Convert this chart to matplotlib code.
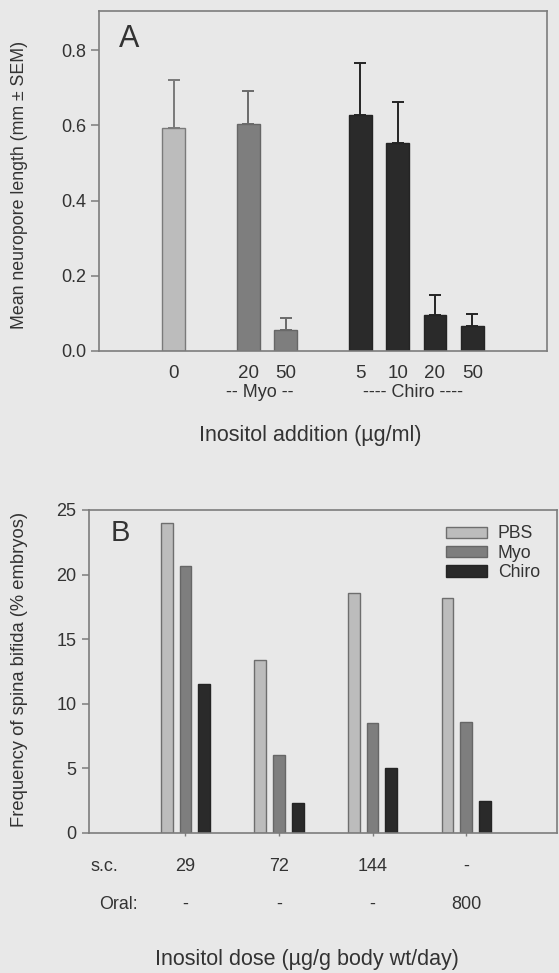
import matplotlib
matplotlib.use("Agg")
import matplotlib.pyplot as plt
from matplotlib.patches import Patch
import numpy as np

plt.rcParams["font.family"] = ["Liberation Sans", "DejaVu Sans"]

# panel A: neuropore length by inositol addition
a_groups = ["Control", "Myo", "Myo", "Chiro", "Chiro", "Chiro", "Chiro"]
a_doses = ["0", "20", "50", "5", "10", "20", "50"]
a_mean = [0.594, 0.603, 0.057, 0.628, 0.554, 0.096, 0.066]
a_sem = [0.127, 0.089, 0.031, 0.137, 0.108, 0.054, 0.033]

# panel B: spina bifida frequency
b_sc = ["29", "72", "144", "-"]
b_oral = ["-", "-", "-", "800"]
b_series = ["PBS", "Myo", "Chiro"]
b_pbs = [24.0, 13.4, 18.6, 18.2]
b_myo = [20.7, 6.0, 8.5, 8.6]
b_chiro = [11.5, 2.3, 5.0, 2.5]

BG = "#e8e8e8"
TXT = "#333333"
SPINE = "#7c7c7c"
fill = {"Control": "#bcbcbc", "PBS": "#bcbcbc", "Myo": "#7e7e7e", "Chiro": "#2a2a2a"}
edge = {"Control": "#7a7a7a", "PBS": "#6e6e6e", "Myo": "#666666", "Chiro": "#242424"}

fig = plt.figure(figsize=(5.59, 9.73), dpi=100, facecolor=BG)

def style(ax):
    ax.set_facecolor(BG)
    for s in ax.spines.values():
        s.set_color(SPINE)
        s.set_linewidth(1.2)
    ax.tick_params(colors=SPINE, labelcolor=TXT)

# ---- A ----
axA = fig.add_axes([0.1771, 0.6393, 0.8014, 0.3494])
style(axA)
pos = []
x = 0
for i, g in enumerate(a_groups):
    if i > 0:
        x += 1 if g == a_groups[i - 1] else 2
    pos.append(x)
pos = np.array(pos)
for p, g, m, e in zip(pos, a_groups, a_mean, a_sem):
    axA.bar(p, m, width=0.6, color=fill[g], edgecolor=edge[g], linewidth=1, zorder=2)
    axA.errorbar(p, m, yerr=[[0], [e]], fmt="none", ecolor=edge[g] if g != "Myo" else "#6a6a6a",
                 elinewidth=1.4, capsize=4, capthick=1.4, zorder=3)
axA.set_xlim(-2, 10)
axA.set_ylim(0, 0.904)
axA.set_yticks([0.0, 0.2, 0.4, 0.6, 0.8])
axA.set_yticklabels(["0.0", "0.2", "0.4", "0.6", "0.8"], fontsize=13)
axA.tick_params(axis="y", length=6, width=1.1, pad=3)
axA.set_xticks(pos)
axA.set_xticklabels(a_doses, fontsize=13.5)
axA.tick_params(axis="x", length=0, pad=10)
trA = axA.get_xaxis_transform()
myo_c = pos[[i for i, g in enumerate(a_groups) if g == "Myo"]].mean()
chi_c = pos[[i for i, g in enumerate(a_groups) if g == "Chiro"]].mean()
axA.text(myo_c - 0.2, -0.121, "-- Myo --", transform=trA, ha="center", va="center",
         fontsize=13, color=TXT)
axA.text(chi_c - 0.1, -0.121, "---- Chiro ----", transform=trA, ha="center", va="center",
         fontsize=13, color=TXT)
axA.text(-1.2, 0.829, "A", fontsize=22, color=TXT, ha="center", va="center")
fig.text(310 / 559, 1 - 435 / 973, "Inositol addition (\u00b5g/ml)", ha="center", va="center",
         fontsize=15.5, color=TXT)
fig.text(19.6 / 559, 1 - 185 / 973, "Mean neuropore length (mm \u00b1 SEM)", rotation=90,
         ha="center", va="center", fontsize=12.8, color=TXT)

# ---- B ----
axB = fig.add_axes([0.1592, 0.1439, 0.8372, 0.3320])
style(axB)
gx = np.arange(len(b_sc))
for off, name, vals in zip([-0.2, 0, 0.2], b_series, [b_pbs, b_myo, b_chiro]):
    axB.bar(gx + off, vals, width=0.125, color=fill[name], edgecolor=edge[name],
            linewidth=1, zorder=2, label=name)
axB.set_xlim(-1.03, 3.97)
axB.set_ylim(0, 25)
axB.set_yticks([0, 5, 10, 15, 20, 25])
axB.set_yticklabels(["0", "5", "10", "15", "20", "25"], fontsize=13)
axB.tick_params(axis="y", length=5, width=1.1, pad=4)
axB.set_xticks(gx)
axB.set_xticklabels([])
axB.tick_params(axis="x", direction="inout", length=5, width=1)
trB = axB.get_xaxis_transform()
axB.text(-0.867, -0.104, "s.c.", transform=trB, ha="center", va="center", fontsize=13, color=TXT)
axB.text(-0.72, -0.220, "Oral:", transform=trB, ha="center", va="center", fontsize=12.8, color=TXT)
for g, s, o in zip(gx, b_sc, b_oral):
    axB.text(g, -0.104, s, transform=trB, ha="center", va="center", fontsize=13, color=TXT)
    axB.text(g, -0.220, o, transform=trB, ha="center", va="center", fontsize=13, color=TXT)
axB.text(-0.7, 23.2, "B", fontsize=21, color=TXT, ha="center", va="center")
handles = [Patch(facecolor=fill[n], edgecolor=edge[n], linewidth=1) for n in b_series]
leg = axB.legend(handles, b_series, loc="upper left", bbox_to_anchor=(0.762, 0.952),
                 frameon=False, borderpad=0, borderaxespad=0, fontsize=12.7,
                 handlelength=2.35, handleheight=0.62, handletextpad=0.6, labelspacing=0.14)
for t in leg.get_texts():
    t.set_color(TXT)
fig.text(306.6 / 559, 1 - 960 / 973, "Inositol dose (\u00b5g/g body wt/day)", ha="center",
         va="center", fontsize=15.5, color=TXT)
fig.text(19.6 / 559, 1 - 669 / 973, "Frequency of spina bifida (% embryos)", rotation=90,
         ha="center", va="center", fontsize=13.2, color=TXT)

fig.savefig("out.png", dpi=100, facecolor=BG)
